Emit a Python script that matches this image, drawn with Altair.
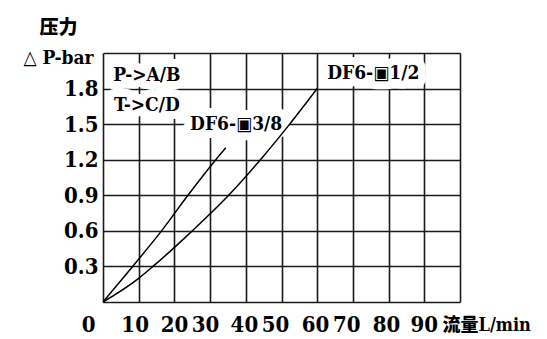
import altair as alt
import pandas as pd

# --- data ---
flow_38 = [0, 8.3, 16.4, 23.8, 31.6, 34.4]
dp_38 = [0, 0.3, 0.6, 0.9, 1.2, 1.3]

flow_12 = [0, 10, 14, 25, 35.2, 44.1, 52.3, 60]
dp_12 = [0, 0.2, 0.3, 0.6, 0.9, 1.2, 1.5, 1.8]

x_grid = [0, 10, 20, 30, 40, 50, 60, 70, 80, 90, 100]
y_grid = [0, 0.3, 0.6, 0.9, 1.2, 1.5, 1.8, 2.1]

x_tick_labels = ["0", "10", "20", "30", "40", "50", "60", "70", "80", "90"]
x_tick_pos = [-4, 9, 20, 28.7, 39.6, 48.3, 59.5, 68.3, 79.4, 90]

note_texts = ["P->A/B", "T->C/D", "DF6-▣3/8", "DF6-▣1/2"]
note_flow = [12.3, 12.3, 37.3, 75.7]
note_dp = [1.913, 1.661, 1.497, 1.93]

FONT = "DejaVu Serif Condensed, Noto Sans CJK SC"

curves = pd.DataFrame(
    {"flow": flow_38 + flow_12,
     "dp": dp_38 + dp_12,
     "series": ["3/8"] * len(flow_38) + ["1/2"] * len(flow_12)}
)
notes = pd.DataFrame({"flow": note_flow, "dp": note_dp, "text": note_texts})
xlabels = pd.DataFrame({"flow": x_tick_pos, "text": x_tick_labels})

x_axis = alt.Axis(
    values=x_grid, labels=False, ticks=False, domain=False, grid=True,
    gridColor="#1a1a1a", gridWidth=1.6, gridOpacity=1,
    title="流量L/min", titleFont=FONT, titleFontSize=18, titleFontWeight=900,
    titleColor="black", titleAnchor="start", titleAlign="left", titleBaseline="middle",
    titleX=339, titleY=23, titleAngle=0,
)
y_axis = alt.Axis(
    values=y_grid, ticks=False, domain=False, grid=True,
    gridColor="#1a1a1a", gridWidth=1.6, gridOpacity=1,
    labelExpr="datum.value > 0.01 && datum.value < 2.0 ? format(datum.value, '.1f') : ''",
    labelFont=FONT, labelFontSize=22, labelFontWeight="bold", labelColor="black",
    labelPadding=5,
    title=["压力", "△ P-bar"], titleFont=FONT, titleFontSize=19, titleFontWeight=900,
    titleColor="black", titleAngle=0, titleAlign="center", titleBaseline="top",
    titleX=-45, titleY=-35, titleLineHeight=30,
)

X = alt.X("flow:Q", scale=alt.Scale(domain=[0, 100], nice=False, zero=False), axis=x_axis)
Y = alt.Y("dp:Q", scale=alt.Scale(domain=[0, 2.1], nice=False, zero=False), axis=y_axis)

lines = alt.Chart(curves).mark_line(color="black", strokeWidth=1.5, interpolate="monotone").encode(
    x=X, y=Y, detail="series:N"
)

halo = alt.Chart(notes).mark_text(
    font=FONT, fontSize=19, fontWeight="bold", baseline="middle", align="center",
    stroke="white", strokeWidth=16, fill="white", strokeJoin="round"
).encode(x=X, y=Y, text="text:N")

note_text = alt.Chart(notes).mark_text(
    font=FONT, fontSize=19, fontWeight="bold", baseline="middle", align="center", color="black"
).encode(x=X, y=Y, text="text:N")

xlab = alt.Chart(xlabels).mark_text(
    font=FONT, fontSize=22, fontWeight="bold", baseline="middle", align="center", color="black"
).encode(x=X, y=alt.value(272), text="text:N")

chart = alt.layer(halo, lines, note_text, xlab).properties(
    width=357, height=249,
    autosize=alt.AutoSizeParams(type="none"),
    padding={"left": 95, "top": 45, "right": 79, "bottom": 35},
    background="white",
).configure_view(stroke=None)

chart.save("out.html", embed_options={"renderer": "svg", "actions": False})
